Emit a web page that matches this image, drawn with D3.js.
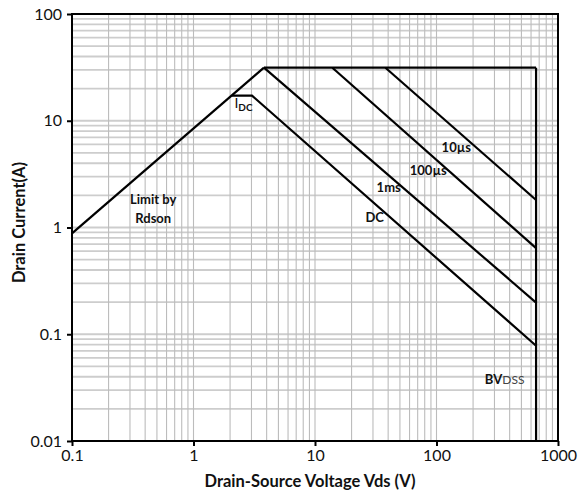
<!DOCTYPE html>
<html>
<head>
<meta charset="utf-8">
<script src="https://cdn.jsdelivr.net/npm/d3@7"></script>
<style>
  body { margin: 0; background: #fff; }
  svg text { font-family: Lato, "Open Sans", sans-serif; fill: #111; }
</style>
</head>
<body>
<svg id="chart" width="584" height="495"></svg>
<script>
// data (Vds in V, Id in A)
const xTicks = [0.1, 1, 10, 100, 1000]
const yTicks = [0.01, 0.1, 1, 10, 100]
const rdsonLimit = [[0.1, 0.88], [3.8, 31.4]]
const currentLimit = [[3.8, 31.4], [660, 31.4]]
const bvdssLimit = [[660, 31.4], [660, 0.01]]
const curveDC = [[2.07, 17.2], [3.03, 17.2], [660, 0.078]]
const curve1ms = [[3.8, 31.4], [660, 0.198]]
const curve100us = [[13.9, 31.4], [660, 0.64]]
const curve10us = [[38, 31.4], [660, 1.81]]

// labels: text, Vds, Id (text centre)
const labels = [
  ["Limit by", 0.466, 1.85],
  ["Rdson", 0.466, 1.23],
  ["1ms", 40.4, 2.39],
  ["DC", 31, 1.26],
  ["100µs", 85.5, 3.46],
  ["10µs", 145.5, 5.68],
]

const svg = d3.select("#chart")
const margin = { top: 14, right: 26, bottom: 54, left: 72 }
const width = +svg.attr("width") - margin.left - margin.right
const height = +svg.attr("height") - margin.top - margin.bottom

const x = d3.scaleLog().domain([0.1, 1000]).range([0, width])
const y = d3.scaleLog().domain([0.01, 100]).range([height, 0])

const g = svg.append("g")
  .attr("transform", "translate(" + margin.left + "," + margin.top + ")")

// grid, major + minor
const xGrid = x.ticks().filter((d) => d > 0.1 && d < 1000)
const yGrid = y.ticks().filter((d) => d > 0.01 && d < 100)

g.append("g").selectAll("line")
  .data(yGrid)
  .join("line")
  .attr("x1", 0).attr("x2", width)
  .attr("y1", (d) => y(d)).attr("y2", (d) => y(d))
  .attr("stroke", "#cdcdcd")
  .attr("stroke-width", 1.8)

g.append("g").selectAll("line")
  .data(xGrid)
  .join("line")
  .attr("y1", 0).attr("y2", height)
  .attr("x1", (d) => x(d)).attr("x2", (d) => x(d))
  .attr("stroke", "#bcbcbc")
  .attr("stroke-width", 1.1)

// frame
g.append("rect")
  .attr("width", width).attr("height", height)
  .attr("fill", "none")
  .attr("stroke", "#000")
  .attr("stroke-width", 2)

// axes
const xAxis = g.append("g")
  .attr("transform", "translate(0," + height + ")")
  .call(d3.axisBottom(x).tickValues(xTicks).tickSize(5).tickPadding(4).tickFormat((d) => d3.format("~g")(d)))
const yAxis = g.append("g")
  .call(d3.axisLeft(y).tickValues(yTicks).tickSize(5).tickPadding(5).tickFormat((d) => d3.format("~g")(d)))

;[xAxis, yAxis].forEach((a) => {
  a.select(".domain").remove()
  a.selectAll(".tick line").attr("stroke", "#000").attr("stroke-width", 2)
  a.selectAll(".tick text").style("font-size", "16px").style("font-family", "Lato, sans-serif").attr("fill", "#111")
})

// SOA curves
const line = d3.line().x((d) => x(d[0])).y((d) => y(d[1]))
const curves = [rdsonLimit, currentLimit, bvdssLimit, curveDC, curve1ms, curve100us, curve10us]
g.append("g").selectAll("path")
  .data(curves)
  .join("path")
  .attr("d", line)
  .attr("fill", "none")
  .attr("stroke", "#000")
  .attr("stroke-width", 2.2)
  .attr("stroke-linejoin", "miter")

// labels
g.append("g").selectAll("text")
  .data(labels)
  .join("text")
  .attr("x", (d) => x(d[1]))
  .attr("y", (d) => y(d[2]))
  .attr("text-anchor", "middle")
  .attr("dominant-baseline", "central")
  .style("font-size", "13px")
  .style("font-weight", "bold")
  .text((d) => d[0])

// I_DC
const idc = g.append("text")
  .attr("x", x(2.17))
  .attr("y", y(13.2))
  .style("font-size", "14px")
idc.append("tspan").text("I")
idc.append("tspan").attr("dy", 3).style("font-size", "10px").style("font-weight", "bold").text("DC")

// BV_DSS
const bv = g.append("text")
  .attr("x", x(250))
  .attr("y", y(0.038))
  .attr("dominant-baseline", "central")
  .style("font-size", "13px")
bv.append("tspan").style("font-weight", "bold").text("BV")
bv.append("tspan").style("font-size", "12px").attr("fill", "#444").text("DSS")

// axis titles
g.append("text")
  .attr("x", width / 2 - 5)
  .attr("y", height + 46)
  .attr("text-anchor", "middle")
  .style("font-size", "16.5px")
  .style("font-weight", "bold")
  .text("Drain-Source Voltage Vds (V)")

g.append("text")
  .attr("transform", "translate(" + (-47) + "," + (height / 2 - 5) + ") rotate(-90)")
  .attr("text-anchor", "middle")
  .style("font-size", "16.5px")
  .style("font-weight", "bold")
  .text("Drain Current(A)")
</script>
</body>
</html>
